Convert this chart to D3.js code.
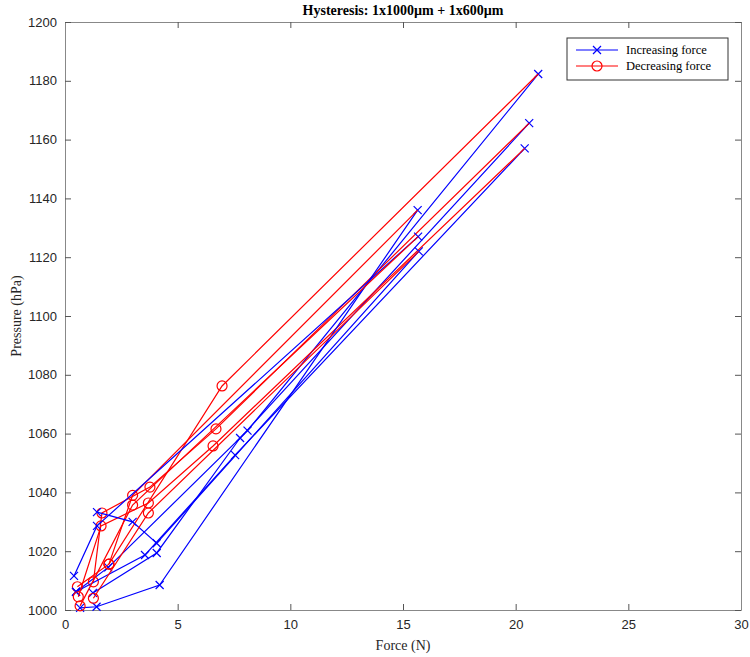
<!DOCTYPE html>
<html>
<head>
<meta charset="utf-8">
<script src="https://cdn.jsdelivr.net/npm/d3@7"></script>
<style>
  body { margin: 0; background: #fff; }
  .tick text { font-family: "Liberation Sans", Arial, sans-serif; font-size: 13px; fill: #262626; }
</style>
</head>
<body>
<div class="chart-container"></div>
<script>
// tick labels
const xTicks = [0, 5, 10, 15, 20, 25, 30];
const yTicks = [1000, 1020, 1040, 1060, 1080, 1100, 1120, 1140, 1160, 1180, 1200];

// increasing force, one array per cycle: [force N, pressure hPa]
const inc1 = [[0.49, 1006.2], [1.92, 1014.5], [8.1, 1061], [21.0, 1182.3]];
const inc2 = [[1.24, 1005.8], [4.07, 1019.4], [7.77, 1058.5], [20.6, 1165.6]];
const inc3 = [[0.49, 1006.2], [3.55, 1018.7], [7.55, 1052.7], [20.4, 1157]];
const inc4 = [[0.67, 1000.7], [1.4, 1001.1], [4.2, 1008.5], [15.65, 1136]];
const inc5 = [[0.4, 1011.6], [1.42, 1028.6], [15.67, 1127]];
const inc6 = [[1.42, 1033.3], [3.0, 1030], [4.07, 1022.7], [15.7, 1122]];

// decreasing force, starting from the peak of the same cycle
const dec1 = [[21.0, 1182.3], [6.97, 1076.2], [1.95, 1015.6], [0.55, 1007.9]];
const dec2 = [[20.6, 1165.6], [6.7, 1061.6], [3.77, 1041.8], [1.64, 1033], [1.26, 1009.6]];
const dec3 = [[20.4, 1157], [6.57, 1055.8], [3.7, 1036.4], [1.6, 1028.6], [0.59, 1004.5]];
const dec4 = [[15.65, 1136], [3.0, 1039], [1.95, 1015.6]];
const dec5 = [[15.67, 1127], [3.0, 1035.7], [0.67, 1001.4]];
const dec6 = [[15.7, 1122], [3.7, 1033], [1.26, 1004]];

const incCycles = [inc1, inc2, inc3, inc4, inc5, inc6];
const decCycles = [dec1, dec2, dec3, dec4, dec5, dec6];

const width = 750, height = 657;
const margin = {left: 65, right: 9, top: 22, bottom: 47};

const svg = d3.select('.chart-container').append('svg')
    .attr('width', width)
    .attr('height', height);

const x = d3.scaleLinear().domain([0, 30]).range([margin.left, width - margin.right]);
const y = d3.scaleLinear().domain([1000, 1200]).range([height - margin.bottom, margin.top]);

const tickLen = 6;
const fmt = d3.format('d');

// axes (ticks pointing inward, box on)
const axes = svg.append('g').attr('id', 'axes');
axes.append('g')
    .attr('transform', 'translate(0,' + y(1000) + ')')
    .call(d3.axisBottom(x).tickValues(xTicks).tickFormat(fmt).tickSizeInner(-tickLen).tickSizeOuter(0).tickPadding(10));
axes.append('g')
    .attr('transform', 'translate(0,' + y(1200) + ')')
    .call(d3.axisTop(x).tickValues(xTicks).tickSizeInner(-tickLen).tickSizeOuter(0).tickFormat(''));
axes.append('g')
    .attr('transform', 'translate(' + x(0) + ',0)')
    .call(d3.axisLeft(y).tickValues(yTicks).tickFormat(fmt).tickSizeInner(-tickLen).tickSizeOuter(0).tickPadding(8));
axes.append('g')
    .attr('transform', 'translate(' + x(30) + ',0)')
    .call(d3.axisRight(y).tickValues(yTicks).tickSizeInner(-tickLen).tickSizeOuter(0).tickFormat(''));
axes.selectAll('.tick line').attr('stroke', '#555').attr('stroke-width', 1);
axes.selectAll('.domain').attr('stroke', '#888').attr('stroke-width', 1);

const line = d3.line().x(d => x(d[0])).y(d => y(d[1]));
const plot = svg.append('g').attr('id', 'plot');

function drawX(g, px, py, s) {
    g.append('path')
        .attr('d', `M${px - s},${py - s}L${px + s},${py + s}M${px - s},${py + s}L${px + s},${py - s}`)
        .attr('stroke', '#0000ff').attr('stroke-width', 1.2).attr('fill', 'none');
}
function drawO(g, px, py, r) {
    g.append('circle').attr('cx', px).attr('cy', py).attr('r', r)
        .attr('stroke', '#ff0000').attr('stroke-width', 1.2).attr('fill', 'none');
}

// cycles in order: increasing then decreasing
incCycles.forEach((inc, i) => {
    plot.append('path').datum(inc).attr('d', line)
        .attr('stroke', '#0000ff').attr('stroke-width', 1.2).attr('fill', 'none');
    inc.forEach(d => drawX(plot, x(d[0]), y(d[1]), 4));
    const dec = decCycles[i];
    plot.append('path').datum(dec).attr('d', line)
        .attr('stroke', '#ff0000').attr('stroke-width', 1.2).attr('fill', 'none');
    dec.slice(1).forEach(d => drawO(plot, x(d[0]), y(d[1]), 5));
});

// title and labels
svg.append('text')
    .attr('x', (x(0) + x(30)) / 2).attr('y', 15)
    .attr('text-anchor', 'middle')
    .attr('font-family', '"Liberation Serif", "Times New Roman", serif')
    .attr('font-weight', 'bold').attr('font-size', 14).attr('fill', '#000')
    .text('Hysteresis: 1x1000µm + 1x600µm');

svg.append('text')
    .attr('x', (x(0) + x(30)) / 2).attr('y', 650)
    .attr('text-anchor', 'middle')
    .attr('font-family', '"Liberation Serif", "Times New Roman", serif')
    .attr('font-size', 14).attr('fill', '#262626')
    .text('Force (N)');

svg.append('text')
    .attr('transform', 'translate(21,' + (y(1000) + y(1200)) / 2 + ') rotate(-90)')
    .attr('text-anchor', 'middle')
    .attr('font-family', '"Liberation Serif", "Times New Roman", serif')
    .attr('font-size', 14).attr('fill', '#262626')
    .text('Pressure (hPa)');

// legend
const legend = svg.append('g').attr('transform', 'translate(567,38)');
legend.append('rect').attr('width', 161).attr('height', 42)
    .attr('fill', '#fff').attr('stroke', '#333').attr('stroke-width', 1);
const legItems = [
    {label: 'Increasing force', color: '#0000ff', marker: 'x'},
    {label: 'Decreasing force', color: '#ff0000', marker: 'o'}
];
legItems.forEach((it, i) => {
    const yy = 12 + i * 16;
    legend.append('line').attr('x1', 9).attr('x2', 51).attr('y1', yy).attr('y2', yy)
        .attr('stroke', it.color).attr('stroke-width', 1.2);
    if (it.marker === 'x') drawX(legend, 30, yy, 4); else drawO(legend, 30, yy, 5);
    legend.append('text').attr('x', 59).attr('y', yy + 4)
        .attr('font-family', '"Liberation Serif", "Times New Roman", serif')
        .attr('font-size', 12.5).attr('fill', '#000')
        .text(it.label);
});
</script>
</body>
</html>
